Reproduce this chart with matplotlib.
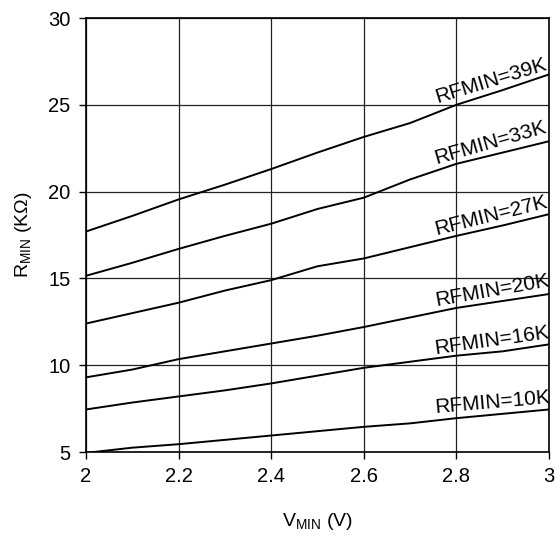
import matplotlib
matplotlib.use("Agg")
import matplotlib.pyplot as plt
import numpy as np

plt.rcParams.update({
    "font.family": ["Liberation Sans", "DejaVu Sans"],
    "font.size": 14,
    "axes.linewidth": 1.2,
    "axes.edgecolor": "black",
    "xtick.major.size": 5,
    "ytick.major.size": 5,
    "xtick.major.width": 1.0,
    "ytick.major.width": 1.0,
})

# ── Data ──────────────────────────────────────────────────────────────────────
v_min = [2.0, 2.1, 2.2, 2.3, 2.4, 2.5, 2.6, 2.7, 2.8, 2.9, 3.0]

r_39k = [17.7, 18.6, 19.55, 20.4, 21.3, 22.25, 23.15, 23.95, 25.0, 25.85, 26.75]
r_33k = [15.15, 15.9, 16.7, 17.45, 18.15, 19.0, 19.65, 20.7, 21.6, 22.25, 22.9]
r_27k = [12.4, 13.0, 13.6, 14.3, 14.9, 15.7, 16.15, 16.8, 17.45, 18.05, 18.7]
r_20k = [9.3, 9.75, 10.35, 10.8, 11.25, 11.7, 12.2, 12.75, 13.3, 13.7, 14.1]
r_16k = [7.45, 7.85, 8.2, 8.55, 8.95, 9.4, 9.85, 10.2, 10.55, 10.8, 11.2]
r_10k = [4.95, 5.25, 5.45, 5.7, 5.95, 6.2, 6.45, 6.65, 6.95, 7.2, 7.45]

curve_labels = ["RFMIN=39K", "RFMIN=33K", "RFMIN=27K",
                "RFMIN=20K", "RFMIN=16K", "RFMIN=10K"]
label_angles = [17, 16, 14, 10, 8, 5]

x_ticks = [2, 2.2, 2.4, 2.6, 2.8, 3]
x_tick_labels = ["2", "2.2", "2.4", "2.6", "2.8", "3"]
y_ticks = [5, 10, 15, 20, 25, 30]

# ── Figure ────────────────────────────────────────────────────────────────────
fig = plt.figure(figsize=(5.58, 5.44), dpi=100)
ax = fig.add_axes([0.1541, 0.1691, 0.8298, 0.7978])

series = [r_39k, r_33k, r_27k, r_20k, r_16k, r_10k]
for ys, lab, ang in zip(series, curve_labels, label_angles):
    ax.plot(v_min, ys, color="black", linewidth=1.4, zorder=3)
    lx = 2.88
    ly = np.interp(lx, v_min, ys)
    ax.text(lx, ly + 0.15, lab, fontsize=15, rotation=ang,
            rotation_mode="anchor", ha="center", va="bottom", zorder=4)

ax.set_xlim(2, 3)
ax.set_ylim(5, 30)
ax.set_xticks(x_ticks)
ax.set_xticklabels(x_tick_labels)
ax.set_yticks(y_ticks)
ax.grid(True, color="#222222", linewidth=0.9)
ax.set_axisbelow(True)
ax.tick_params(direction="out", labelsize=14.5, pad=6)

ax.set_xlabel(r"V$_{\mathregular{MIN}}$ (V)", fontsize=14, labelpad=18)
ax.set_ylabel(r"R$_{\mathregular{MIN}}$ (K$\mathregular{\Omega}$)", fontsize=14,
              labelpad=10)

fig.savefig("out.png", dpi=100)
